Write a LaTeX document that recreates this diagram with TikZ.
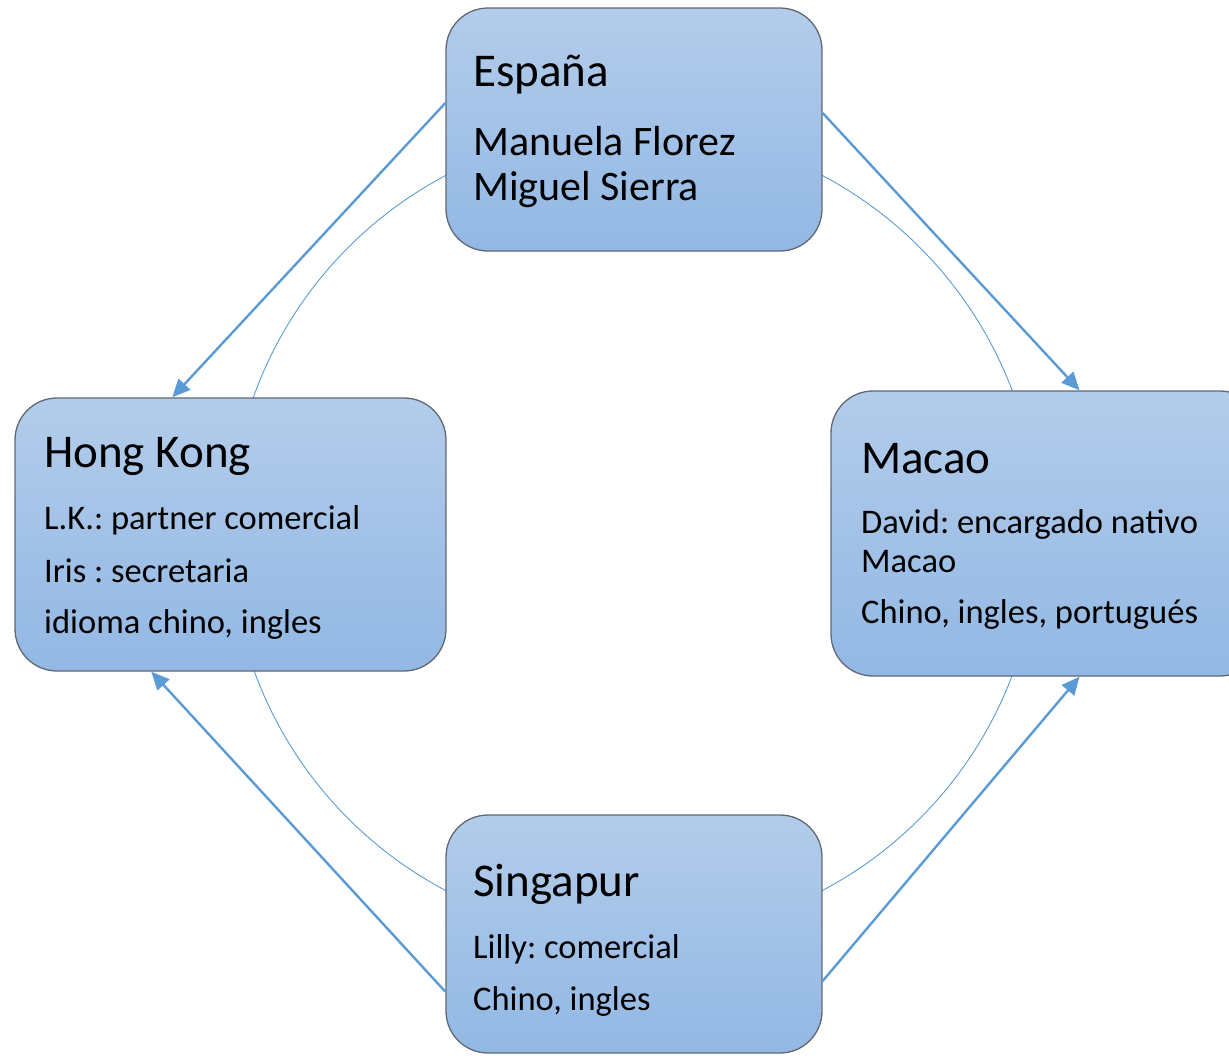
\documentclass[tikz,border=0pt]{standalone}
\usepackage{fontspec}
\setmainfont{Carlito}
\usetikzlibrary{arrows.meta}
\frenchspacing

\definecolor{azul}{RGB}{91,155,213}
\definecolor{cajaArriba}{RGB}{179,204,234}
\definecolor{cajaAbajo}{RGB}{146,184,228}
\definecolor{borde}{RGB}{96,104,114}

\begin{document}
\begin{tikzpicture}[x = 1pt, y = -1pt,
caja/.style = {draw = borde, line width = 1.3pt, rounded corners = 42pt, top color = cajaArriba, bottom color = cajaAbajo, inner sep = 0pt},
titulo/.style = {anchor = base west, inner sep = 0pt, font = \fontsize{47}{56}\selectfont},
linea/.style = {anchor = base west, inner sep = 0pt, font = \fontsize{34.5}{41}\selectfont},
flecha/.style = {draw = azul, line width = 2.4pt, -{Triangle[length = 18pt, width = 16pt]}},
arco/.style = {draw = azul, line width = .9pt}
]
\useasboundingbox (0,0) rectangle (1229,1055);
\clip (0,0) rectangle (1229,1055);

% circulo de fondo, las cajas lo tapan
\coordinate (centro) at (634,533);
\draw[arco] (centro) circle [radius = 404pt];

% cajas
\node[caja, minimum width = 376pt, minimum height = 243pt] (espana) at (634,129.5) {};
\node[caja, minimum width = 431pt, minimum height = 273pt] (hk) at (230.5,534.5) {};
\node[caja, minimum width = 431pt, minimum height = 285pt] (macao) at (1046.5,533.5) {};
\node[caja, minimum width = 376pt, minimum height = 238pt] (singapur) at (634,934) {};

% textos
\node[titulo] (espana-t) at (473,86) {España};
\node[titulo, font = \fontsize{42}{50}\selectfont] (espana-1) at (473,155) {Manuela Florez};
\node[titulo, font = \fontsize{42}{50}\selectfont] (espana-2) at (473,200) {Miguel Sierra};

\node[titulo] (hk-t) at (44,467) {Hong Kong};
\foreach \txt/\yy [count = \i] in {{L.K.: partner comercial}/529, {Iris : secretaria}/582, {idioma chino, ingles}/633}
	\node[linea] (hk-\i) at (44,\yy) {\txt};

\node[titulo] (macao-t) at (861,473) {Macao};
\foreach \txt/\yy [count = \i] in {{David: encargado nativo}/533, {Macao}/572, {Chino, ingles, portugués}/623}
	\node[linea] (macao-\i) at (861,\yy) {\txt};

\node[titulo] (singapur-t) at (473,896) {Singapur};
\foreach \txt/\yy [count = \i] in {{Lilly: comercial}/958, {Chino, ingles}/1010}
	\node[linea] (singapur-\i) at (473,\yy) {\txt};

% flechas
\draw[flecha] (espana.172) -- (hk.113);
\draw[flecha] (espana.5) -- (macao.77);
\draw[flecha] (singapur.197) -- (hk.240);
\draw[flecha] (singapur.346) -- (macao.283);
\end{tikzpicture}
\end{document}
